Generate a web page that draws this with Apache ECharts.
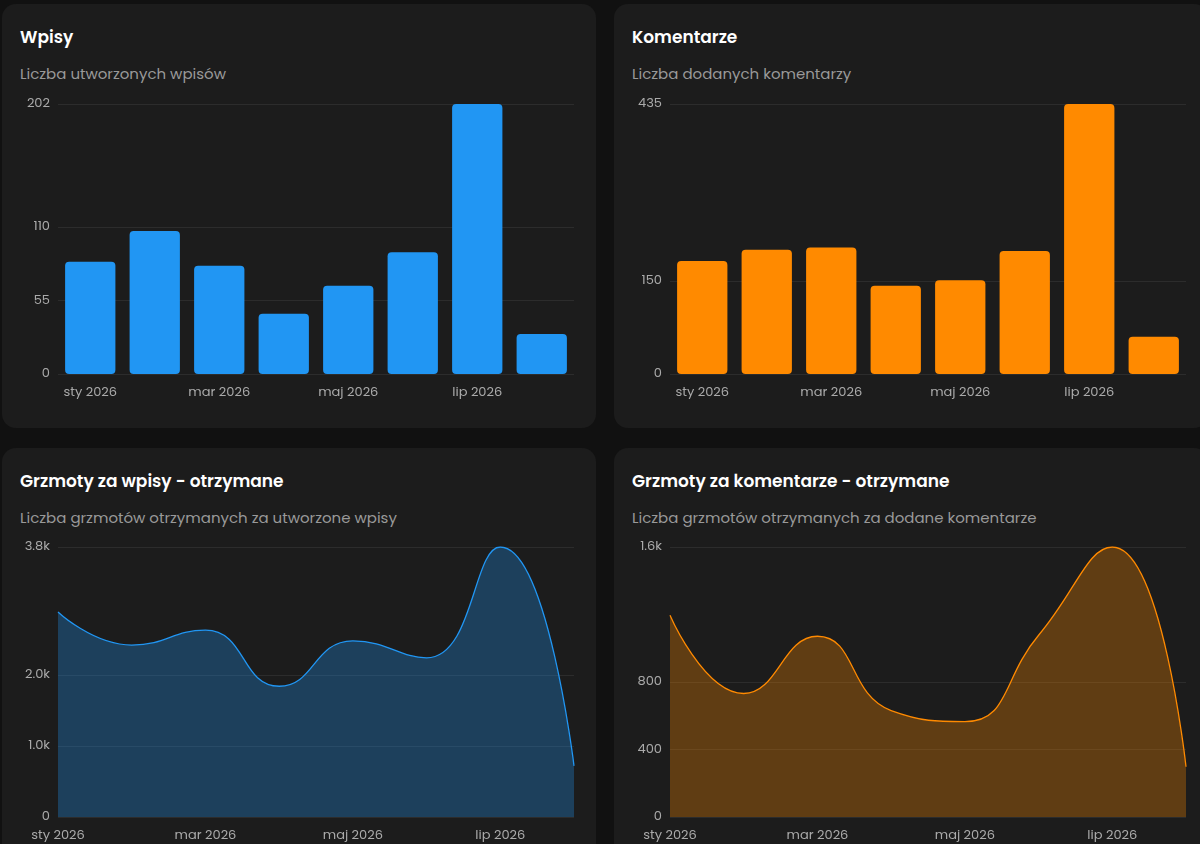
<!DOCTYPE html>
<html><head><meta charset="utf-8">
<script src="https://cdn.jsdelivr.net/npm/echarts@6/dist/echarts.min.js"></script>
<style>
body{margin:0;background:#111;width:1200px;height:844px;overflow:hidden;font-family:Poppins,"Open Sans",sans-serif;}
.card{position:absolute;width:594px;height:424px;background:#1c1c1c;border-radius:14px;overflow:hidden}
.t{position:absolute;left:18px;top:20px;color:#fff;font-size:17px;font-weight:600}
.s{position:absolute;left:18px;top:58px;color:#999;font-size:15px}
.c{position:absolute;left:0;top:0;width:594px;height:424px}
</style></head><body>
<div class="card" style="left:2px;top:4px"><div class="t">Wpisy</div><div class="s">Liczba utworzonych wpisów</div><div class="c" id="c1"></div></div>
<div class="card" style="left:614px;top:4px"><div class="t">Komentarze</div><div class="s">Liczba dodanych komentarzy</div><div class="c" id="c2"></div></div>
<div class="card" style="left:2px;top:448px"><div class="t">Grzmoty za wpisy - otrzymane</div><div class="s">Liczba grzmotów otrzymanych za utworzone wpisy</div><div class="c" id="c3"></div></div>
<div class="card" style="left:614px;top:448px"><div class="t">Grzmoty za komentarze - otrzymane</div><div class="s">Liczba grzmotów otrzymanych za dodane komentarze</div><div class="c" id="c4"></div></div>
<script>
const categories=['sty 2026','lut 2026','mar 2026','kwi 2026','maj 2026','cze 2026','lip 2026','sie 2026'];
const wpisy=[84,107,81,45,66,91,202,30];
const komentarze=[182,200,204,142,151,198,435,60];
const grzmotyWpisy=[2885,2420,2630,1840,2480,2240,3800,720];
const grzmotyKomentarze=[1196,732,1071,631,565,1077,1600,298];
const ticks1=[0,55,110,202], ticks2=[0,150,435], ticks3=[0,1000,2000,3800], ticks4=[0,400,800,1600];
function fmt(v){return v>=1000?(v/1000).toFixed(1)+'k':String(v);}
function opt(type,data,ticks,color,top,bottom){
  const s={type:type,data:data,itemStyle:{color:color}};
  if(type==='bar'){s.barCategoryGap='22%';s.itemStyle.borderRadius=[4,4,4,4];}
  else{s.smooth=true;s.symbol='none';s.lineStyle={color:color,width:1.3};s.areaStyle={color:color,opacity:0.3};}
  return {animation:false,grid:{left:56,right:22,top:top,bottom:bottom},
   xAxis:{type:'category',data:categories,boundaryGap:type==='bar',axisLine:{show:false},axisTick:{show:false},
     axisLabel:{color:'#aaa',fontSize:13,margin:12,fontFamily:'Poppins,Open Sans,sans-serif'}},
   yAxis:{type:'value',min:0,max:ticks[ticks.length-1],
     axisLabel:{customValues:ticks,color:'#aaa',fontSize:13,formatter:fmt,fontFamily:'Poppins,Open Sans,sans-serif'},
     axisTick:{show:false,customValues:ticks},
     splitLine:{lineStyle:{color:'#2c2c2c'}}},
   series:[s]};
}
echarts.init(document.getElementById('c1')).setOption(opt('bar',wpisy,ticks1,'#2196f3',100,54));
echarts.init(document.getElementById('c2')).setOption(opt('bar',komentarze,ticks2,'#ff8a00',100,54));
echarts.init(document.getElementById('c3')).setOption(opt('line',grzmotyWpisy,ticks3,'#2196f3',99,55));
echarts.init(document.getElementById('c4')).setOption(opt('line',grzmotyKomentarze,ticks4,'#ff8a00',99,55));
</script></body></html>
